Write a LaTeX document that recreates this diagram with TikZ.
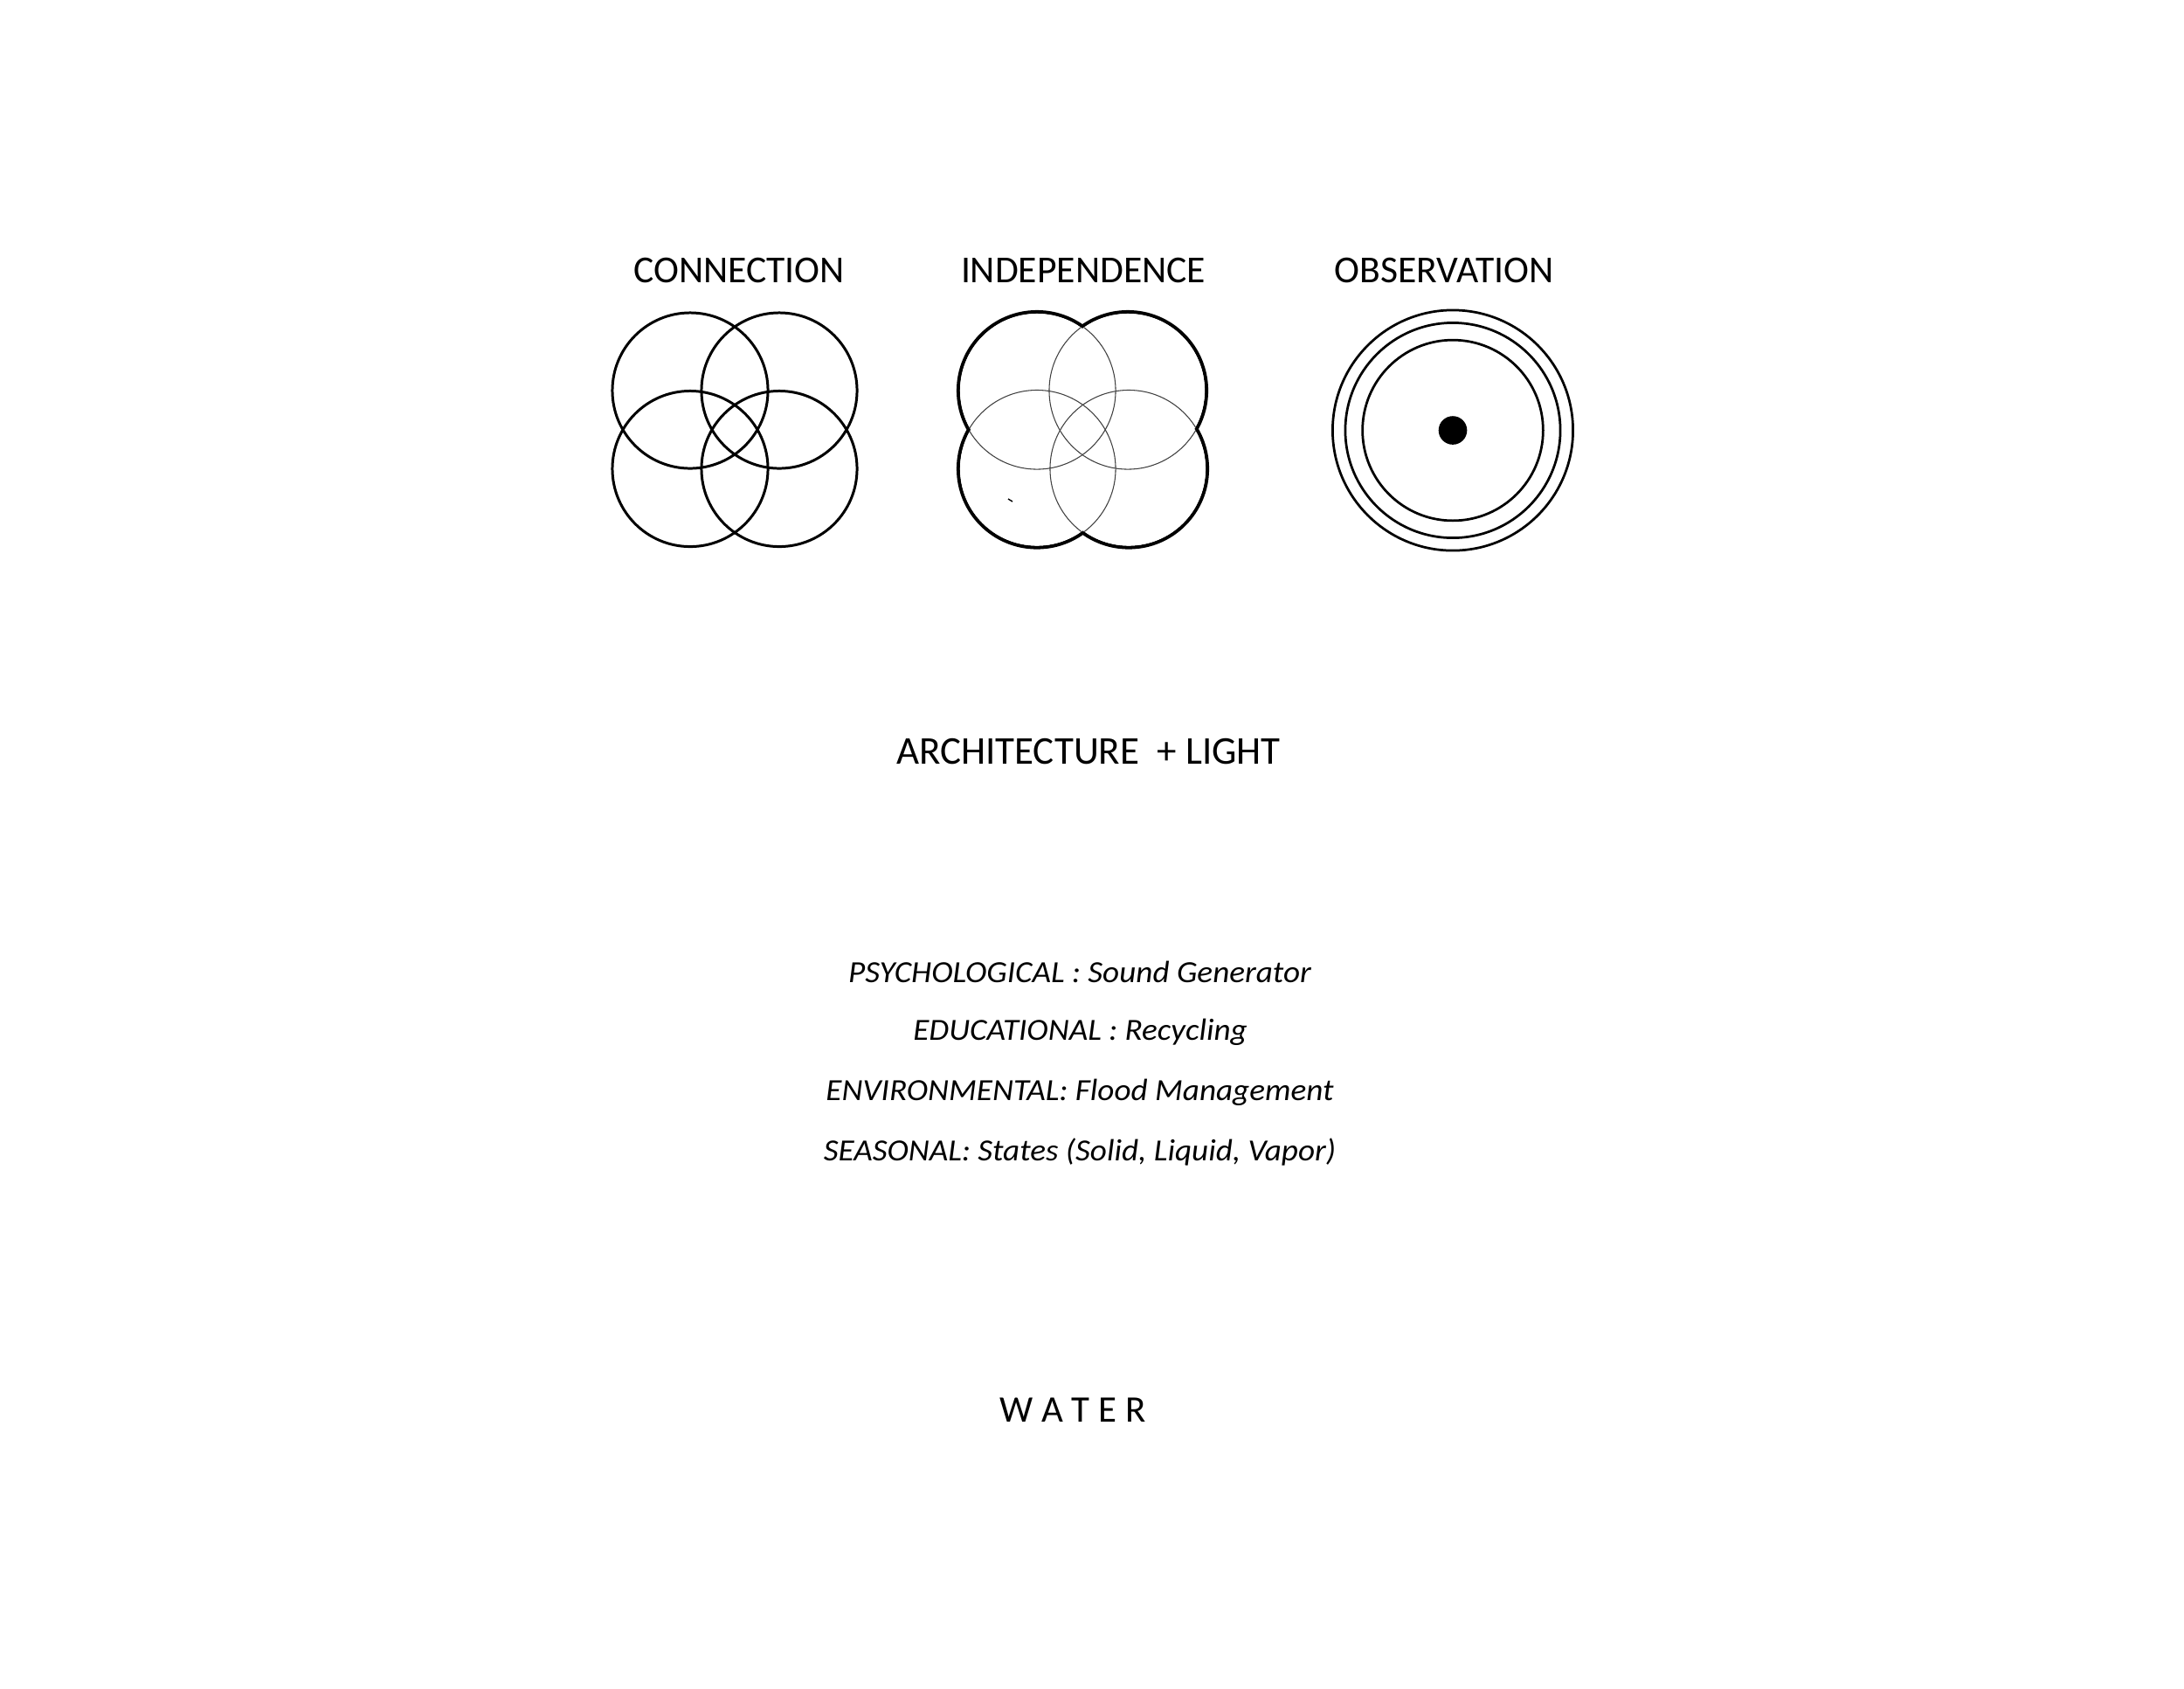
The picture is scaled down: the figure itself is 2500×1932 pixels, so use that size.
\documentclass[tikz,border=0pt]{standalone}
\usepackage{fontspec}
\setmainfont{Carlito}
\usetikzlibrary{positioning,calc}
\tikzstyle{heading} = [anchor=base, inner sep=0pt, font=\fontsize{12.4}{14}\selectfont]
\tikzstyle{caption} = [anchor=base, inner sep=0pt, font=\fontsize{10}{12}\selectfont\itshape\addfontfeature{FakeStretch=1.057}]
\tikzstyle{ring} = [draw=black, line width=0.85pt]
\tikzstyle{outline} = [draw=black, line width=1.15pt]
\tikzstyle{hairline} = [draw=black!75, line width=0.3pt]

\begin{document}
\begin{tikzpicture}[x=0.01cm, y=-0.01cm]
\useasboundingbox (0,0) rectangle (2500,1932);

% headings
\node (con) [heading] at (846,323) {CONNECTION};
\node (ind) [heading] at (1240,323) {INDEPENDENCE};
\node (obs) [heading] at (1653,323) {OBSERVATION};

% connection
\foreach \cx/\cy in {790/447, 892/447, 790/536.5, 892/536.5}
  \draw [ring] (\cx,\cy) circle [radius=0.89cm];

% independence
\foreach \cx/\cy in {1187/447, 1291/447, 1187/536.5, 1292/536.5}
  \draw [outline] (\cx,\cy) circle [radius=0.9cm];
\fill [white] (1187,447) circle [radius=0.88cm] (1291,447) circle [radius=0.88cm]
  (1187,536.5) circle [radius=0.88cm] (1292,536.5) circle [radius=0.88cm];
\begin{scope}
\clip (1187,447) circle [radius=0.885cm] (1291,447) circle [radius=0.885cm]
  (1187,536.5) circle [radius=0.885cm] (1292,536.5) circle [radius=0.885cm];
\foreach \cx/\cy in {1187/447, 1291/447, 1187/536.5, 1292/536.5}
  \draw [hairline] (\cx,\cy) circle [radius=0.9cm];
\end{scope}
\draw [line width=0.4pt] (1154,571) -- (1159,574);

% observation
\coordinate (eye) at (1663,492.5);
\draw [ring, line width=0.78pt] (eye) circle [radius=1.375cm];
\draw [ring, line width=0.78pt] (eye) circle [radius=1.23cm];
\draw [ring, line width=0.78pt] (eye) circle [radius=1.033cm];
\fill (eye) circle [radius=0.163cm];

% themes
\node (arch) [heading, font=\fontsize{12.8}{15}\selectfont] at (1246,874) {ARCHITECTURE \ + LIGHT};
\node (psy) [caption] at (1236,1124) {PSYCHOLOGICAL : Sound Generator};
\node (edu) [caption] at (1236.5,1190.6) {EDUCATIONAL : Recycling};
\node (env) [caption] at (1236,1259.5) {ENVIRONMENTAL: Flood Management};
\node (sea) [caption] at (1236,1328.4) {SEASONAL: States (Solid, Liquid, Vapor)};
\node (water) [heading, font=\fontsize{12.2}{14}\selectfont] at (1228,1627) {W A T E R};
\end{tikzpicture}
\end{document}
